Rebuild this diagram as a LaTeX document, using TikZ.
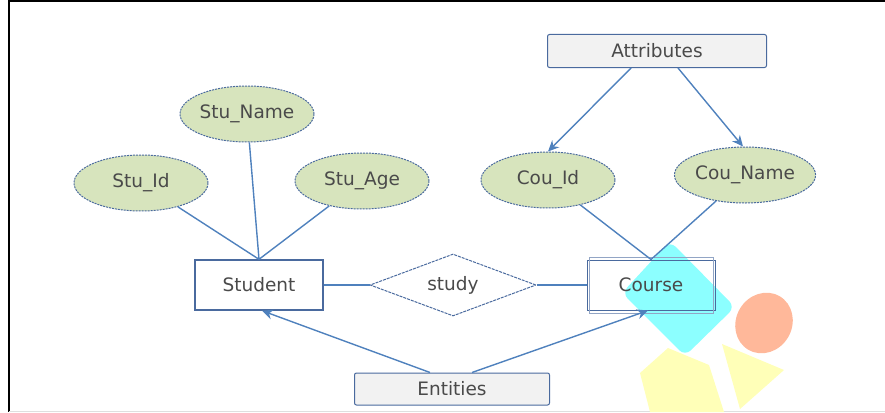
\documentclass[tikz,border=0pt]{standalone}
\usepackage{fontspec}
\setmainfont{DejaVu Sans}
\usetikzlibrary{shapes.geometric,arrows.meta}

\definecolor{lineblue}{HTML}{4F81BD}
\definecolor{edgeblue}{HTML}{4A6A9E}
\definecolor{attrfill}{HTML}{D7E4BD}
\definecolor{tagfill}{HTML}{F2F2F2}
\definecolor{txtgray}{HTML}{4A4A4A}
\definecolor{logocyan}{HTML}{8CFFFF}
\definecolor{logoorange}{HTML}{FFB89A}
\definecolor{logoyellow}{HTML}{FFFFB8}

\tikzset{
  attr/.style={ellipse, draw=edgeblue, dash pattern=on 2pt off 1pt, line width=1pt,
    fill=attrfill, minimum width=134pt, minimum height=56pt, inner sep=0pt},
  entity/.style={rectangle, draw=edgeblue, line width=1.4pt, fill=white,
    minimum width=128pt, minimum height=50pt, inner sep=0pt},
  rel/.style={diamond, draw=edgeblue, dash pattern=on 3pt off 1pt, line width=1pt,
    aspect=2.6, minimum width=166pt, minimum height=62pt, inner sep=0pt},
  tag/.style={rectangle, rounded corners=2pt, draw=edgeblue, line width=1pt,
    fill=tagfill, inner sep=0pt},
  link/.style={draw=lineblue, line width=1.4pt},
  every node/.style={text=txtgray, font=\fontsize{18.5}{20}\selectfont}
}

\begin{document}
\begin{tikzpicture}[x=1pt,y=-1pt,>={Stealth[length=11pt,width=10pt]}]
  \useasboundingbox (0,0) rectangle (885,412);
  % frame
  \draw[black, line width=2pt] (9,0) -- (9,412);
  \draw[black, line width=1.5pt] (8,1) -- (885,1);
  \draw[gray!25, line width=1pt] (9,411) -- (885,411);

  % logo shapes
  \fill[logocyan, rounded corners=8pt]
    (670,241) -- (735,307) -- (685,356) -- (622,293) -- cycle;
  \fill[logoorange, rotate around={-30:(764,323)}] (764,323) ellipse (28pt and 31pt);
  \fill[logoyellow] (640,373) -- (668,348) -- (709,365) -- (724,412) -- (650,412) -- cycle;
  \fill[logoyellow] (722,344) -- (784,370) -- (740,409) -- cycle;

  % attributes of Student
  \node[attr] (SN) at (247,114) {Stu\_Name};
  \node[attr] (SI) at (141,183) {Stu\_Id};
  \node[attr] (SA) at (362,181) {Stu\_Age};
  % attributes of Course
  \node[attr] (CI) at (548,180) {Cou\_Id};
  \node[attr] (CN) at (745,175) {Cou\_Name};

  % entities and relation
  \node[entity] (S) at (259,285) {Student};
  \node[rel] (R) at (453,285) {study};
  \node[entity, line width=1pt, fill=none] (C) at (651,285) {Course};
  \draw[edgeblue!60, line width=0.8pt] ([shift={(2.5pt,-2.5pt)}]C.south west) rectangle ([shift={(-2.5pt,2.5pt)}]C.north east);

  % labels
  \node[tag, minimum width=219pt, minimum height=33pt] (A) at (657,51) {Attributes};
  \node[tag, minimum width=195pt, minimum height=32pt] (E) at (452,389) {Entities};

  % lines
  \draw[link] (SI) -- (S.north);
  \draw[link] (SN) -- (S.north);
  \draw[link] (SA) -- (S.north);
  \draw[link] (CI) -- (C.north);
  \draw[link] (CN) -- (C.north);
  \draw[link] (S) -- (R);
  \draw[link] (R) -- (C);

  % arrows
  \draw[link, ->] ([xshift=-26pt]A.south) -- (CI.north);
  \draw[link, ->] ([xshift=21pt]A.south) -- ([xshift=-2pt]CN.north);
  \draw[link, ->] ([xshift=-22pt]E.north) -- ([xshift=3pt]S.south);
  \draw[link, ->] ([xshift=20pt]E.north) -- ([xshift=-3pt]C.south);
\end{tikzpicture}
\end{document}
